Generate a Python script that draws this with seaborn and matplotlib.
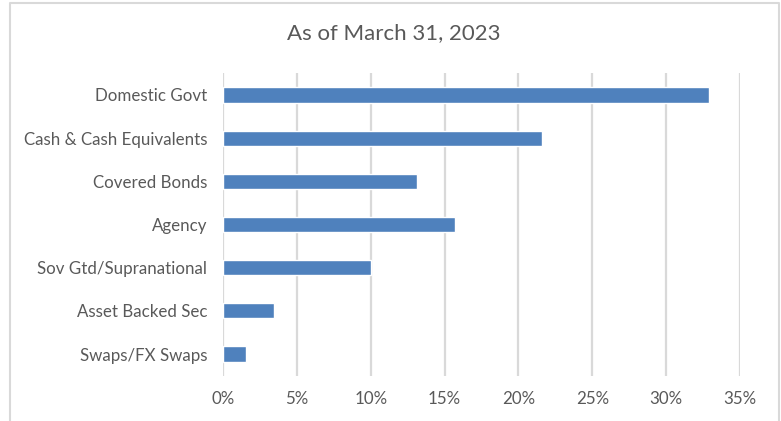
import matplotlib
matplotlib.use("Agg")
import matplotlib.pyplot as plt
import matplotlib.lines as mlines
from matplotlib.ticker import FuncFormatter
import pandas as pd
import seaborn as sns

# values (percent of portfolio)
sectors = [
    "Domestic Govt",
    "Cash & Cash Equivalents",
    "Covered Bonds",
    "Agency",
    "Sov Gtd/Supranational",
    "Asset Backed Sec",
    "Swaps/FX Swaps",
]
weights = [32.9, 21.6, 13.1, 15.7, 10.0, 3.45, 1.55]
title = "As of March 31, 2023"

BAR_COLOR = "#4F81BD"
GRID_COLOR = "#D9D9D9"
TEXT_COLOR = "#595959"

sns.set_theme(style="white")
plt.rcParams["font.family"] = ["Lato", "DejaVu Sans"]

df = pd.DataFrame({"sector": sectors, "weight": weights})

W, H = 781, 421
fig = plt.figure(figsize=(W / 100, H / 100), dpi=100)
ax = fig.add_axes([223 / W, 1 - 375.6 / H, (740 - 223) / W, (375.6 - 73.4) / H])

sns.barplot(data=df, y="sector", x="weight", orient="h", color=BAR_COLOR,
            width=0.35, saturation=1, ax=ax, zorder=3)

ax.set_xlim(0, 35)
ax.set_xticks(range(0, 36, 5))
ax.xaxis.set_major_formatter(FuncFormatter(lambda v, _: f"{v:.0f}%"))
ax.grid(axis="x", color=GRID_COLOR, lw=1.6, zorder=0)
ax.set_axisbelow(True)
for s in ax.spines.values():
    s.set_visible(False)
ax.set_xlabel("")
ax.set_ylabel("")
ax.tick_params(axis="both", length=0, colors=TEXT_COLOR, labelsize=12.2)
ax.tick_params(axis="y", pad=11.5)
ax.tick_params(axis="x", pad=11)

fig.text(393.5 / W, 1 - 33 / H, title, ha="center", va="center",
         fontsize=16, color=TEXT_COLOR)

# chart frame (bottom edge is cropped in the reference)
frame_x = [10 / W, 10 / W, 779 / W, 779 / W]
frame_y = [0, 1 - 3 / H, 1 - 3 / H, 0]
fig.add_artist(mlines.Line2D(frame_x, frame_y, color=GRID_COLOR, lw=1.5,
                             transform=fig.transFigure))

fig.savefig("out.png", dpi=100, facecolor="white")
